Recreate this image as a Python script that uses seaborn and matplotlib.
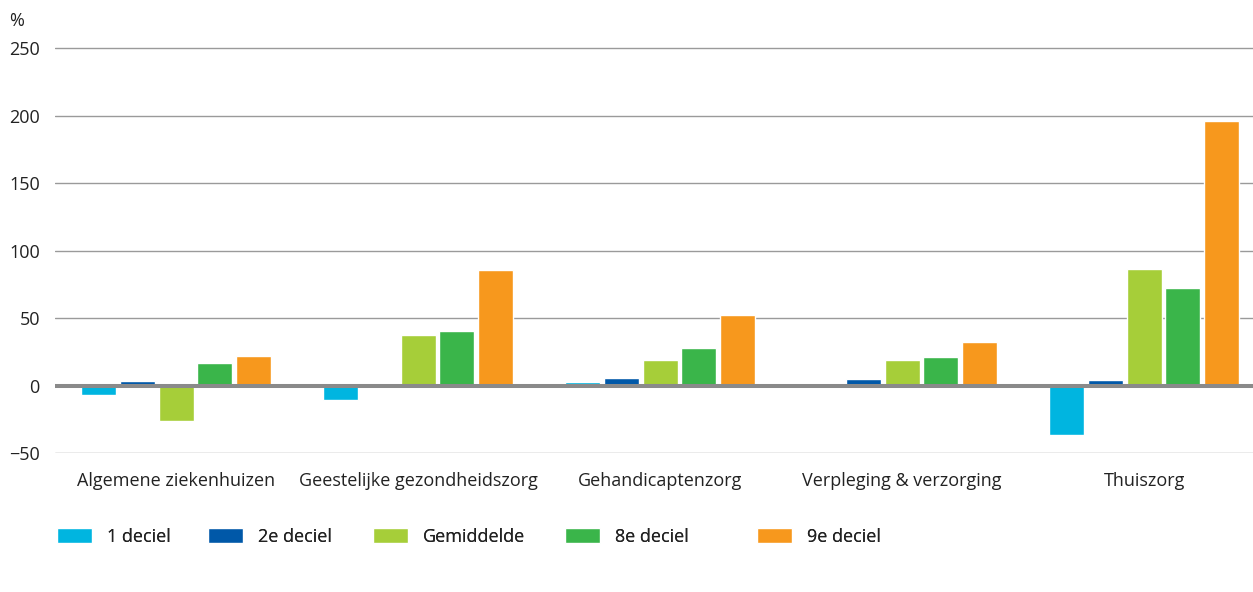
"""
Grouped bar chart: change in health care use per income decile (CBS style).
Saves out.png at 1253x592.
"""

import matplotlib.pyplot as plt
import pandas as pd
import seaborn as sns

categories = [
    "Algemene ziekenhuizen",
    "Geestelijke gezondheidszorg",
    "Gehandicaptenzorg",
    "Verpleging & verzorging",
    "Thuiszorg",
]
series = ["1 deciel", "2e deciel", "Gemiddelde", "8e deciel", "9e deciel"]

deciel_1 = [-7, -10.6, 2.7, 0, -37]
deciel_2 = [3.5, 0, 5.7, 5, 4.2]
gemiddelde = [-26.6, 37.5, 19, 19, 86.3]
deciel_8 = [16.8, 40.5, 27.9, 21.2, 72.3]
deciel_9 = [22, 85.6, 52.3, 32.3, 196.5]

colors = ["#00b5e0", "#0058a8", "#a6ce39", "#3ab54a", "#f7981d"]

values = [deciel_1, deciel_2, gemiddelde, deciel_8, deciel_9]
df = pd.DataFrame(
    [(c, s, v) for s, vals in zip(series, values) for c, v in zip(categories, vals)],
    columns=["categorie", "reeks", "waarde"],
)

sns.set_style("white")
plt.rcParams["font.family"] = ["Open Sans", "DejaVu Sans"]

W, H = 1253, 592
fig = plt.figure(figsize=(W / 100, H / 100), dpi=100)
ax = fig.add_axes([0.044, 0.2348, 0.956, 0.6858])

# gridlines behind bars
for y in [-50, 50, 100, 150, 200, 250]:
    ax.axhline(y, color="#9a9a9a", linewidth=1.0, zorder=0)

sns.barplot(
    data=df, x="categorie", y="waarde", hue="reeks",
    order=categories, hue_order=series, palette=colors,
    width=0.8, gap=0.1, saturation=1, ax=ax, zorder=2, legend=True,
)
ax.axhline(0, color="#8a8a8a", linewidth=2.9, zorder=3)

ax.set_ylim(-50, 251)
ax.set_xlim(-0.5, 4.45)
ax.set_yticks([-50, 0, 50, 100, 150, 200, 250])
ax.set_xlabel("")
ax.set_ylabel("")
for s in ax.spines.values():
    s.set_visible(False)
ax.tick_params(axis="y", length=0, pad=11, labelsize=13, colors="#222222")
ax.tick_params(axis="x", length=0, pad=14, labelsize=13, colors="#222222")

fig.text(0.007, 0.965, "%", fontsize=13, color="#222222", va="center")

# one legend per entry so the spacing follows the original layout
handles, labels = ax.get_legend_handles_labels()
ax.get_legend().remove()
legend_x = [57, 208, 373, 565, 757]
for h, lab, x in zip(handles, labels, legend_x):
    leg = fig.legend(
        [h], [lab], loc="center left", bbox_to_anchor=(x / W, 0.093),
        frameon=False, fontsize=13, handlelength=1.95, handleheight=0.9,
        handletextpad=0.83, borderpad=0, borderaxespad=0, labelcolor="#222222",
    )
    fig.add_artist(leg)

fig.savefig("out.png", dpi=100)
